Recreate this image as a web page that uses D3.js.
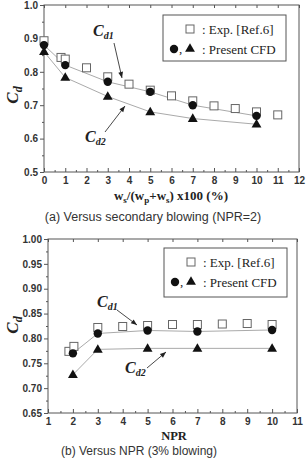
<!DOCTYPE html>
<html>
<head>
<meta charset="utf-8">
<script src="https://cdn.jsdelivr.net/npm/d3@7"></script>
<style>
  body { margin: 0; background: #fff; }
  .tick-lab { font-family: "Liberation Sans", Arial, sans-serif; font-size: 10px; font-weight: bold; fill: #333; }
  .cap { font-family: "Liberation Sans", Arial, sans-serif; font-size: 12.5px; fill: #333; }
  .serif { font-family: "Liberation Serif", "Times New Roman", serif; fill: #222; }
</style>
</head>
<body>
<svg id="fig" width="306" height="458"></svg>
<script>
// ---- (a) versus secondary blowing, NPR = 2
var blowExpX = [0, 0.8, 1, 2, 3, 4, 5, 6, 7, 8, 9, 10, 11];
var blowExpY = [0.893, 0.843, 0.838, 0.812, 0.785, 0.763, 0.745, 0.728, 0.713, 0.698, 0.69, 0.68, 0.671];
var blowCfdX = [0, 1, 3, 5, 7, 10];
var blowCd1  = [0.88, 0.82, 0.77, 0.74, 0.70, 0.668];
var blowCd2  = [0.86, 0.783, 0.726, 0.68, 0.66, 0.643];
var blowXTicks = [0, 1, 2, 3, 4, 5, 6, 7, 8, 9, 10, 11, 12];
var blowYTicks = [0.5, 0.6, 0.7, 0.8, 0.9, 1.0];

// ---- (b) versus NPR, 3% blowing
var nprExpX = [1.84, 2.04, 3, 4, 5, 6, 7, 8, 9, 10];
var nprExpY = [0.774, 0.784, 0.822, 0.824, 0.826, 0.828, 0.828, 0.829, 0.83, 0.828];
var nprCfdX = [2, 3, 5, 7, 10];
var nprCd1  = [0.77, 0.81, 0.816, 0.814, 0.817];
var nprCd2  = [0.727, 0.778, 0.78, 0.78, 0.78];
var nprXTicks = [1, 2, 3, 4, 5, 6, 7, 8, 9, 10, 11];
var nprYTicks = [0.65, 0.70, 0.75, 0.80, 0.85, 0.90, 0.95, 1.00];

var svg = d3.select("#fig");
var axisCol = "#555";

function panel(o) {
  var x = d3.scaleLinear().domain(o.xd).range(o.xr);
  var y = d3.scaleLinear().domain(o.yd).range(o.yr);
  var g = svg.append("g");

  // frame
  g.append("rect")
      .attr("x", o.xr[0]).attr("y", o.yr[1])
      .attr("width", o.xr[1] - o.xr[0]).attr("height", o.yr[0] - o.yr[1])
      .attr("fill", "none").attr("stroke", axisCol).attr("stroke-width", 1);

  // axes
  var xa = g.append("g").attr("transform", "translate(0," + o.yr[0] + ")")
      .call(d3.axisBottom(x).tickValues(o.xt).tickSize(-4).tickPadding(5).tickFormat(d3.format("d")));
  var xm = g.append("g").attr("transform", "translate(0," + o.yr[0] + ")")
      .call(d3.axisBottom(x).tickValues(d3.pairs(o.xt).map(p => (p[0] + p[1]) / 2)).tickSize(-2).tickFormat(""));
  var xtop = g.append("g").attr("transform", "translate(0," + o.yr[1] + ")")
      .call(d3.axisTop(x).tickValues(o.xt).tickSize(-3).tickFormat(""));
  var ya = g.append("g").attr("transform", "translate(" + o.xr[0] + ",0)")
      .call(d3.axisLeft(y).tickValues(o.yt).tickSize(4).tickPadding(2).tickFormat(d3.format(o.yf)));
  var ym = g.append("g").attr("transform", "translate(" + o.xr[0] + ",0)")
      .call(d3.axisLeft(y).tickValues(d3.pairs(o.yt).map(p => (p[0] + p[1]) / 2)).tickSize(2).tickFormat(""));
  [xa, xm, xtop, ya, ym].forEach(a => {
    a.select(".domain").remove();
    a.selectAll("line").attr("stroke", axisCol);
    a.selectAll("text").attr("class", "tick-lab").attr("fill", null);
  });

  // CFD lines
  var line = d3.line().x((d, i) => x(o.cx[i])).y(d => y(d));
  [o.c1, o.c2].forEach(s => {
    g.append("path").datum(s).attr("d", line)
        .attr("fill", "none").attr("stroke", "#aaa").attr("stroke-width", 1);
  });

  // experiment squares
  g.selectAll(".sq").data(o.ey).enter().append("rect")
      .attr("x", (d, i) => x(o.ex[i]) - 4).attr("y", d => y(d) - 4)
      .attr("width", 8).attr("height", 8)
      .attr("fill", "#fff").attr("stroke", "#666").attr("stroke-width", 1);

  // CFD circles (Cd1)
  g.selectAll(".ci").data(o.c1).enter().append("circle")
      .attr("cx", (d, i) => x(o.cx[i])).attr("cy", d => y(d)).attr("r", 4.2)
      .attr("fill", "#111");

  // CFD triangles (Cd2)
  var tri = d3.symbol().type(d3.symbolTriangle).size(42);
  g.selectAll(".tr").data(o.c2).enter().append("path")
      .attr("d", tri)
      .attr("transform", (d, i) => "translate(" + x(o.cx[i]) + "," + (y(d) + 0.5) + ")")
      .attr("fill", "#111");

  // y title
  var yt = g.append("text").attr("class", "serif")
      .attr("transform", "translate(" + o.ytx + "," + o.yty + ") rotate(-90)")
      .attr("text-anchor", "middle")
      .style("font-size", "17px").style("font-weight", "bold").style("font-style", "italic");
  yt.append("tspan").text("C");
  yt.append("tspan").text("d").attr("dy", 4).style("font-size", "12px");

  // legend
  var lg = g.append("g");
  lg.append("rect").attr("x", o.lg[0]).attr("y", o.lg[1]).attr("width", o.lg[2]).attr("height", o.lg[3])
      .attr("fill", "#fff").attr("stroke", axisCol).attr("stroke-width", 1);
  var lx = o.lg[0], ly = o.lg[1];
  lg.append("rect").attr("x", lx + 23).attr("y", ly + 10).attr("width", 8).attr("height", 8)
      .attr("fill", "#fff").attr("stroke", "#666");
  lg.append("text").attr("class", "serif").attr("x", lx + 39).attr("y", ly + 19)
      .style("font-size", "13px").text(": Exp. [Ref.6]");
  lg.append("circle").attr("cx", lx + 11).attr("cy", ly + 34).attr("r", 4.2).attr("fill", "#111");
  lg.append("text").attr("class", "serif").attr("x", lx + 16).attr("y", ly + 38)
      .style("font-size", "13px").text(",");
  lg.append("path").attr("d", tri).attr("transform", "translate(" + (lx + 27) + "," + (ly + 34) + ")")
      .attr("fill", "#111");
  lg.append("text").attr("class", "serif").attr("x", lx + 39).attr("y", ly + 39)
      .style("font-size", "13px").text(": Present CFD");

  // annotations
  o.notes.forEach(n => {
    var t = g.append("text").attr("class", "serif").attr("x", n.tx).attr("y", n.ty)
        .style("font-size", "16px").style("font-weight", "bold").style("font-style", "italic");
    t.append("tspan").text("C");
    t.append("tspan").text(n.sub).attr("dy", 3).style("font-size", "10px");
    g.append("line").attr("x1", n.a[0]).attr("y1", n.a[1]).attr("x2", n.a[2]).attr("y2", n.a[3])
        .attr("stroke", "#333").attr("stroke-width", 0.9);
    var ang = Math.atan2(n.a[3] - n.a[1], n.a[2] - n.a[0]) * 180 / Math.PI;
    g.append("path").attr("d", "M0,0L-6,-2.4L-6,2.4Z")
        .attr("transform", "translate(" + n.a[2] + "," + n.a[3] + ") rotate(" + ang + ")")
        .attr("fill", "#222");
  });

  return { x: x, y: y };
}

panel({
  xd: [0, 12], xr: [44, 299], yd: [0.5, 1.0], yr: [172, 5],
  xt: blowXTicks, yt: blowYTicks, yf: ".1f",
  ex: blowExpX, ey: blowExpY, cx: blowCfdX, c1: blowCd1, c2: blowCd2,
  ytx: 18, yty: 95,
  lg: [163, 15, 123, 46],
  notes: [
    { tx: 93, ty: 36, sub: "d1", a: [114, 43, 122, 78] },
    { tx: 85, ty: 142, sub: "d2", a: [105, 132, 125, 106] }
  ]
});

panel({
  xd: [1, 11], xr: [48, 297], yd: [0.65, 1.0], yr: [413, 239],
  xt: nprXTicks, yt: nprYTicks, yf: ".2f",
  ex: nprExpX, ey: nprExpY, cx: nprCfdX, c1: nprCd1, c2: nprCd2,
  ytx: 18, yty: 325,
  lg: [164, 248, 123, 49],
  notes: [
    { tx: 97, ty: 307, sub: "d1", a: [117, 310, 137, 325] },
    { tx: 125, ty: 373, sub: "d2", a: [147, 368, 166, 352] }
  ]
});

// x-axis titles
var xt1 = svg.append("text").attr("class", "serif").attr("x", 171).attr("y", 200)
    .attr("text-anchor", "middle").style("font-size", "13px").style("font-weight", "bold");
xt1.append("tspan").text("w");
xt1.append("tspan").text("s").attr("dy", 3).style("font-size", "9px");
xt1.append("tspan").text("/(w").attr("dy", -3);
xt1.append("tspan").text("p").attr("dy", 3).style("font-size", "9px");
xt1.append("tspan").text("+w").attr("dy", -3);
xt1.append("tspan").text("s").attr("dy", 3).style("font-size", "9px");
xt1.append("tspan").text(") x100 (%)").attr("dy", -3);

svg.append("text").attr("class", "serif").attr("x", 174).attr("y", 440)
    .attr("text-anchor", "middle").style("font-size", "12.5px").style("font-weight", "bold").text("NPR");

// captions
svg.append("text").attr("class", "cap").attr("x", 139).attr("y", 455)
    .attr("text-anchor", "middle").style("font-size", "12px").text("(b) Versus NPR (3% blowing)");
svg.append("text").attr("class", "cap").attr("x", 153).attr("y", 221)
    .attr("text-anchor", "middle").text("(a) Versus secondary blowing (NPR=2)");
</script>
</body>
</html>
